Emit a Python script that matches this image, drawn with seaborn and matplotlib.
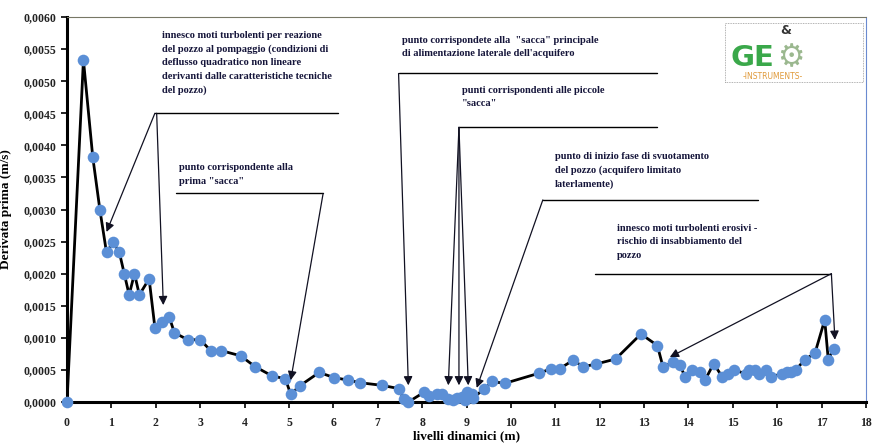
import matplotlib
matplotlib.use('Agg')
import matplotlib.pyplot as plt
import seaborn as sns
import numpy as np
import pandas as pd
from matplotlib.ticker import FuncFormatter, MultipleLocator
from matplotlib.patches import Rectangle

#-------------------------------------------------------------------------------------------------------------
# Data
#-------------------------------------------------------------------------------------------------------------

livelli = [0, 0.37, 0.58, 0.74, 0.89, 1.04, 1.18, 1.29, 1.40, 1.52, 1.63, 1.85, 1.98, 2.15, 2.30, 2.42,
           2.72, 3.00, 3.24, 3.48, 3.91, 4.24, 4.61, 4.92, 5.04, 5.24, 5.68, 6.02, 6.34, 6.61, 7.09, 7.47,
           7.59, 7.69, 8.04, 8.15, 8.33, 8.45, 8.59, 8.69, 8.78, 8.89, 8.97, 9.00, 9.12, 9.15, 9.40, 9.58,
           9.86, 10.64, 10.91, 11.10, 11.40, 11.63, 11.91, 12.36, 12.93, 13.30, 13.43, 13.65, 13.80, 13.93,
           14.09, 14.26, 14.38, 14.57, 14.76, 14.89, 15.03, 15.29, 15.37, 15.50, 15.59, 15.74, 15.86, 16.10,
           16.21, 16.31, 16.42, 16.62, 16.85, 17.07, 17.15, 17.27]

derivata = [0, 0.00533, 0.00382, 0.00300, 0.00233, 0.00249, 0.00233, 0.00200, 0.00167, 0.00200, 0.00167,
            0.00192, 0.00116, 0.00125, 0.00133, 0.00108, 0.00097, 0.00097, 0.00080, 0.00080, 0.00072,
            0.00055, 0.00041, 0.00036, 0.00012, 0.00025, 0.00046, 0.00038, 0.00034, 0.00030, 0.00026,
            0.00021, 0.00004, 0.00000, 0.00015, 0.00009, 0.00012, 0.00012, 0.00004, 0.00003, 0.00006,
            0.00008, 0.00003, 0.00015, 0.00013, 0.00007, 0.00020, 0.00032, 0.00029, 0.00045, 0.00052,
            0.00052, 0.00065, 0.00055, 0.00059, 0.00067, 0.00106, 0.00088, 0.00054, 0.00063, 0.00058,
            0.00039, 0.00050, 0.00047, 0.00035, 0.00060, 0.00039, 0.00044, 0.00050, 0.00044, 0.00050,
            0.00050, 0.00044, 0.00050, 0.00039, 0.00044, 0.00046, 0.00047, 0.00050, 0.00066, 0.00076,
            0.00128, 0.00066, 0.00083]

# annotations: text, text anchor (x, y), underline (x0, x1, y), arrow start, arrow targets
NOTE_TEXTS = [
    'innesco moti turbolenti per reazione\ndel pozzo al pompaggio (condizioni di\ndeflusso quadratico non lineare\nderivanti dalle caratteristiche tecniche\ndel pozzo)',
    'punto corrispondente alla\nprima "sacca"',
    'punto corrispondete alla  "sacca" principale\ndi alimentazione laterale dell\'acquifero',
    'punti corrispondenti alle piccole\n"sacca"',
    'punto di inizio fase di svuotamento\ndel pozzo (acquifero limitato\nlaterlamente)',
    'innesco moti turbolenti erosivi -\nrischio di insabbiamento del\npozzo',
]
NOTE_POS = [(2.14, 0.00578), (2.52, 0.00372), (7.55, 0.00570), (8.90, 0.00492), (10.99, 0.00390), (12.39, 0.00277)]
NOTE_LINE = [(1.98, 6.10, 0.00450), (2.45, 5.77, 0.00325), (7.47, 13.29, 0.00512),
             (8.83, 13.29, 0.00428), (10.72, 15.56, 0.00315), (11.89, 17.22, 0.00200)]
NOTE_FROM = [[(1.98, 0.00450), (2.02, 0.00450)], [(5.77, 0.00325)], [(7.47, 0.00512)],
             [(8.83, 0.00428)] * 3, [(10.72, 0.00315)], [(17.22, 0.00200)] * 2]
NOTE_TO = [[(0.89, 0.00265), (2.17, 0.00151)], [(5.04, 0.00034)], [(7.69, 0.00026)],
           [(8.59, 0.00026), (8.83, 0.00026), (9.04, 0.00026)], [(9.23, 0.00022)],
           [(13.58, 0.00070), (17.30, 0.00097)]]

TEXT_COLOUR = '#15153a'
POINT_COLOUR = '#5b8fd6'

#-------------------------------------------------------------------------------------------------------------
# Plot
#-------------------------------------------------------------------------------------------------------------

df = pd.DataFrame({'livelli': livelli, 'derivata': derivata})

sns.set_style('white')
plt.rcParams['font.family'] = ['Liberation Serif', 'DejaVu Serif']

fig = plt.figure(figsize=(8.74, 4.47), dpi=100)
ax = fig.add_axes([67 / 874, 1 - 402 / 447, (866 - 67) / 874, (402 - 17) / 447])

sns.lineplot(data=df, x='livelli', y='derivata', ax=ax, color='black', linewidth=2.0,
             estimator=None, sort=False, zorder=2)
sns.scatterplot(data=df, x='livelli', y='derivata', ax=ax, color=POINT_COLOUR, s=70,
                edgecolor=POINT_COLOUR, linewidth=0, zorder=3, clip_on=False)

ax.set_xlim(0, 18)
ax.set_ylim(0, 0.006)
ax.xaxis.set_major_locator(MultipleLocator(1))
ax.yaxis.set_major_locator(MultipleLocator(0.0005))
ax.yaxis.set_major_formatter(FuncFormatter(lambda v, p: f'{v:.4f}'.replace('.', ',')))
ax.tick_params(axis='both', direction='out', length=4, width=1.2, colors='black',
               labelsize=8.5, bottom=True, left=True)
for lab in ax.get_xticklabels() + ax.get_yticklabels():
    lab.set_fontweight('bold')
    lab.set_color('#222222')
ax.tick_params(axis='x', pad=7)

ax.spines['left'].set_linewidth(2.2)
ax.spines['bottom'].set_linewidth(2.2)
ax.spines['left'].set_color('black')
ax.spines['bottom'].set_color('black')
ax.spines['top'].set_color('#777766')
ax.spines['top'].set_linewidth(0.8)
ax.spines['top'].set_linestyle((0, (2, 1)))
ax.spines['right'].set_color('#6a8ad0')
ax.spines['right'].set_linewidth(0.8)
ax.spines['right'].set_linestyle((0, (2, 1)))

ax.set_xlabel('livelli dinamici (m)', fontsize=9.5, fontweight='bold', color='black', labelpad=1)
ax.set_ylabel('Derivata prima (m/s)', fontsize=9.5, fontweight='bold', color='black', labelpad=8)

for text, pos, line, starts, ends in zip(NOTE_TEXTS, NOTE_POS, NOTE_LINE, NOTE_FROM, NOTE_TO):
    ax.text(pos[0], pos[1], text, fontsize=7.5, fontweight='bold', color=TEXT_COLOUR,
            ha='left', va='top', linespacing=1.6, zorder=4)
    ax.plot([line[0], line[1]], [line[2], line[2]], color='black', linewidth=1.0, zorder=4)
    for s, e in zip(starts, ends):
        ax.annotate('', xy=e, xytext=s,
                    arrowprops=dict(arrowstyle='-|>', color='#111122', lw=0.9,
                                    mutation_scale=13, shrinkA=0, shrinkB=0), zorder=4)

# logo in the top right corner
fig.patches.append(Rectangle((725 / 874, 1 - 82 / 447), 138 / 874, 59 / 447, transform=fig.transFigure,
                             fill=False, edgecolor='#999999', linewidth=0.6, linestyle=(0, (1, 1))))
fig.text(730 / 874, 1 - 66 / 447, 'GE', fontsize=21, fontweight='bold', color='#3aa84a',
         family='DejaVu Sans', ha='left', va='baseline')
fig.text(791 / 874, 1 - 66 / 447, '\u2699', fontsize=22, color='#9bb88f',
         family='DejaVu Sans', ha='center', va='baseline')
fig.text(786 / 874, 1 - 34 / 447, '&', fontsize=9, fontweight='bold', color='#333333',
         family='DejaVu Sans', ha='center', va='baseline')
fig.text(773 / 874, 1 - 79 / 447, '-INSTRUMENTS-', fontsize=5.5, color='#e09a3a',
         family='DejaVu Sans', ha='center', va='baseline')

fig.savefig('out.png', dpi=100, facecolor='white')
